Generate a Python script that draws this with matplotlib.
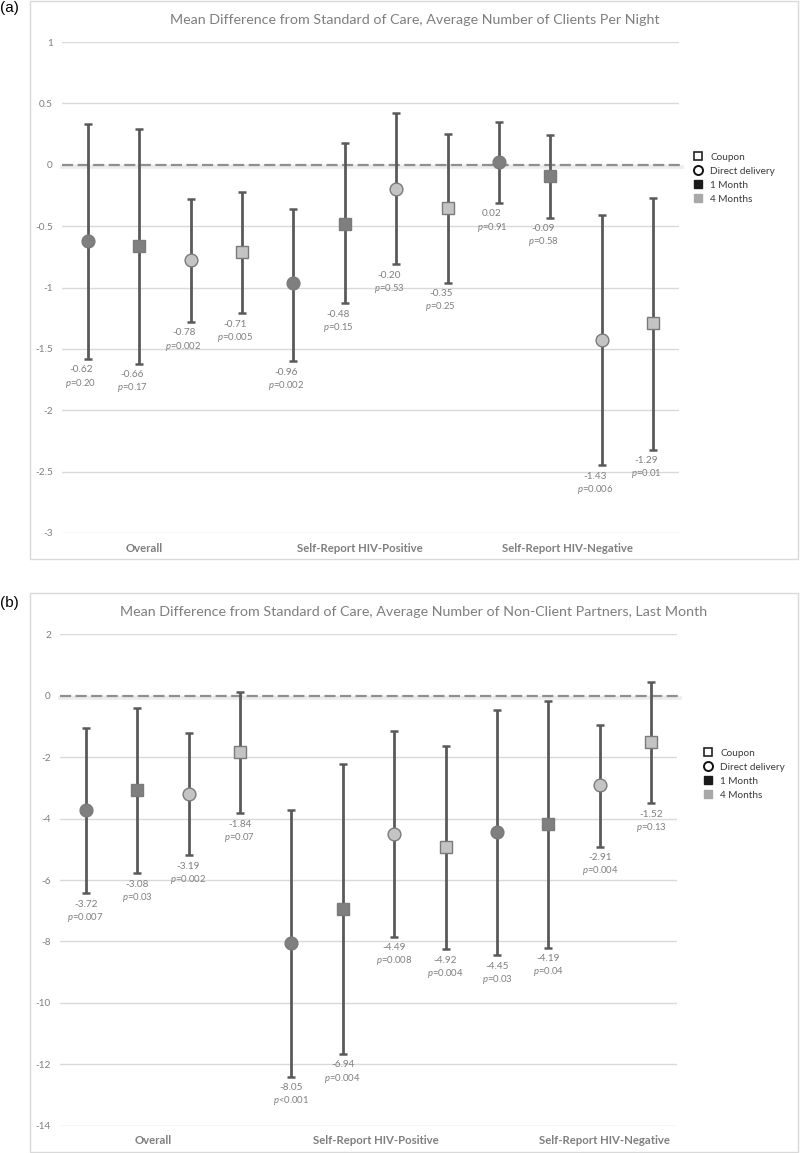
import matplotlib
matplotlib.use("Agg")
import matplotlib.pyplot as plt
from matplotlib.lines import Line2D
from matplotlib.patches import Rectangle
from matplotlib.transforms import offset_copy
import numpy as np

# ---------------- data ----------------
groups = ["Overall", "Self-Report HIV-Positive", "Self-Report HIV-Negative"]
series_order = ["Direct delivery, 1 Month", "Coupon, 1 Month",
                "Direct delivery, 4 Months", "Coupon, 4 Months"]

title_a = "Mean Difference from Standard of Care, Average Number of Clients Per Night"
a_est = [-0.62, -0.66, -0.78, -0.71, -0.96, -0.48, -0.20, -0.35, 0.02, -0.09, -1.43, -1.29]
a_lo = [-1.58, -1.62, -1.28, -1.21, -1.60, -1.13, -0.81, -0.96, -0.31, -0.43, -2.45, -2.32]
a_hi = [0.33, 0.29, -0.28, -0.22, -0.36, 0.18, 0.42, 0.25, 0.35, 0.24, -0.41, -0.27]
a_p = ["0.20", "0.17", "0.002", "0.005", "0.002", "0.15", "0.53", "0.25", "0.91", "0.58", "0.006", "0.01"]
a_yticks = [1, 0.5, 0, -0.5, -1, -1.5, -2, -2.5, -3]

title_b = "Mean Difference from Standard of Care, Average Number of Non-Client Partners, Last Month"
b_est = [-3.72, -3.08, -3.19, -1.84, -8.05, -6.94, -4.49, -4.92, -4.45, -4.19, -2.91, -1.52]
b_lo = [-6.42, -5.78, -5.19, -3.82, -12.40, -11.66, -7.84, -8.25, -8.45, -8.20, -4.91, -3.50]
b_hi = [-1.04, -0.39, -1.22, 0.13, -3.71, -2.22, -1.15, -1.63, -0.47, -0.18, -0.94, 0.44]
b_p = ["0.007", "0.03", "0.002", "0.07", "<0.001", "0.004", "0.008", "0.004", "0.03", "0.04", "0.004", "0.13"]
b_yticks = [2, 0, -2, -4, -6, -8, -10, -12, -14]

legend_labels = ["Coupon", "Direct delivery", "1 Month", "4 Months"]

# ---------------- style ----------------
plt.rcParams['font.family'] = ['Lato', 'DejaVu Sans']
plt.rcParams['axes.unicode_minus'] = False
plt.rcParams['mathtext.fontset'] = 'custom'
plt.rcParams['mathtext.rm'] = 'Lato'
plt.rcParams['mathtext.it'] = 'Lato:italic'
plt.rcParams['lines.scale_dashes'] = False

GRAY_TXT = '#7f7f7f'
DARK = '#7f7f7f'
LIGHT = '#c4c4c4'
EDGE = '#7a7a7a'
BAR = '#5a5a5a'

W, H = 800, 1153
fig = plt.figure(figsize=(W / 100, H / 100), dpi=100)


def fx(px):
    return px / W


def fy(py):
    return 1 - py / H


def panel(box, ax_rect, est, lo, hi, pvals, yticks, title, title_xy,
          grp_pos, grp_y, leg_xy, lab_dx, letter, letter_y):
    # outer frame
    x0, y0, x1, y1 = box
    fig.add_artist(Rectangle((fx(x0), fy(y1)), fx(x1 - x0), (y1 - y0) / H,
                             transform=fig.transFigure, fill=False,
                             edgecolor='#d9d9d9', lw=1.0))
    l, t, r, b = ax_rect
    ax = fig.add_axes([fx(l), fy(b), fx(r - l), (b - t) / H])
    n = len(est)
    x = np.arange(n)
    ax.set_xlim(-0.5, n - 0.5)
    ax.set_ylim(min(yticks), max(yticks))
    ax.set_yticks(yticks)
    ax.set_yticklabels([f"{v:g}" for v in yticks])
    ax.tick_params(axis='y', length=0, labelsize=7.2, labelcolor=GRAY_TXT, pad=6.5)
    ax.set_xticks([])
    for s in ax.spines.values():
        s.set_visible(False)
    ax.grid(axis='y', color='#d9d9d9', lw=1.0)
    ax.set_axisbelow(True)
    ax.patch.set_alpha(0)

    # zero line with soft shadow
    shadow_tr = offset_copy(ax.transData, fig=fig, x=0, y=-2, units='dots')
    ax.plot([-0.5, n - 0.45], [0, 0], color='#ececec', lw=2.6,
            zorder=1.5, clip_on=False, transform=shadow_tr)
    ax.plot([-0.5, n - 0.45], [0, 0], color='#8f8f8f', lw=1.6,
            dashes=(8, 3.2), zorder=2, clip_on=False)

    est_a = np.array(est)
    yerr = np.vstack([est_a - np.array(lo), np.array(hi) - est_a])
    eb = ax.errorbar(x, est_a, yerr=yerr, fmt='none', ecolor=BAR,
                     elinewidth=2.0, capsize=2.9, capthick=1.8, zorder=3)
    for cap in eb[1]:
        cap.set_color('#111111')

    # markers per series (positions cycle through the 4 series)
    for k, name in enumerate(series_order):
        idx = x[k::4]
        marker = 'o' if name.startswith('Direct') else 's'
        face = DARK if '1 Month' in name else LIGHT
        ms = 9.2 if marker == 'o' else 8.6
        ax.plot(idx, est_a[idx], linestyle='none', marker=marker, ms=ms,
                markerfacecolor=face, markeredgecolor=EDGE, mew=1.0, zorder=4)

    for i in range(n):
        ax.annotate(f"{est[i]:.2f}", (x[i], lo[i]), xytext=(lab_dx, -8.0),
                    textcoords='offset points', ha='center', va='center',
                    fontsize=7.2, color=GRAY_TXT, zorder=5)
        ax.annotate(r"$\it{p}$" + ("=" if not pvals[i].startswith('<') else "") + pvals[i],
                    (x[i], lo[i]), xytext=(lab_dx, -17.5),
                    textcoords='offset points', ha='center', va='center',
                    fontsize=6.8, color=GRAY_TXT, zorder=5)

    fig.text(fx(title_xy[0]), fy(title_xy[1]), title, ha='center', va='center',
             fontsize=10.3, color=GRAY_TXT)
    for gx, g in zip(grp_pos, groups):
        fig.text(fx(gx), fy(grp_y), g, ha='center', va='center', fontsize=8.2,
                 fontweight='bold', color=GRAY_TXT)

    handles = [
        Line2D([], [], ls='none', marker='s', ms=6, mfc='white', mec='#222222', mew=1.2),
        Line2D([], [], ls='none', marker='o', ms=6.5, mfc='white', mec='#111111', mew=1.4),
        Line2D([], [], ls='none', marker='s', ms=6.2, mfc='#1a1a1a', mec='#1a1a1a'),
        Line2D([], [], ls='none', marker='s', ms=6.2, mfc='#a8a8a8', mec='#a8a8a8'),
    ]
    fig.legend(handles, legend_labels, loc='center left',
               bbox_to_anchor=(fx(leg_xy[0]), fy(leg_xy[1])),
               bbox_transform=fig.transFigure, frameon=False, fontsize=7.2,
               handlelength=1.0, handletextpad=0.75, labelspacing=0.5,
               borderpad=0, borderaxespad=0, labelcolor='#3a3a3a')

    fig.text(fx(0), fy(letter_y), letter, ha='left', va='center',
             fontsize=11, color='black', family=['Liberation Sans', 'DejaVu Sans'])
    return ax


panel((30, 1, 798, 559), (62, 42, 679, 533), a_est, a_lo, a_hi, a_p, a_yticks,
      title_a, (415, 20), (144, 360, 567), 549, (693, 178), -5.0, "(a)", 8)
panel((30, 593, 798, 1152), (60, 634.3, 677, 1125.7), b_est, b_lo, b_hi, b_p, b_yticks,
      title_b, (414, 612), (153, 376, 604), 1140, (703, 774), 0.0, "(b)", 603)

fig.savefig("out.png", dpi=100)
